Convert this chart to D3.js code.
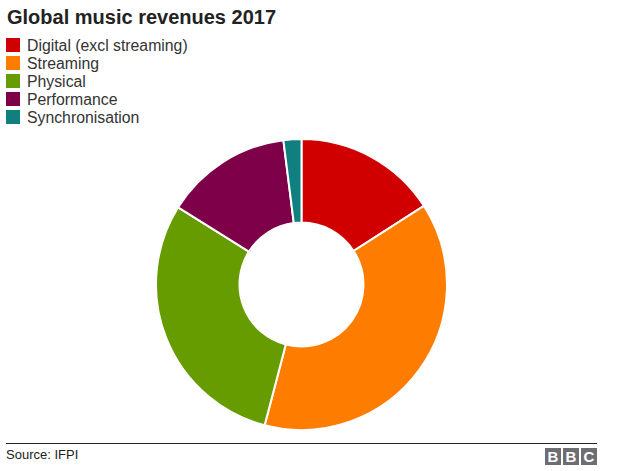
<!DOCTYPE html>
<html><head><meta charset="utf-8">
<script src="https://cdn.jsdelivr.net/npm/d3@7"></script>
<style>body{margin:0;background:#fff}svg{display:block;font-family:"Liberation Sans",Arial,Helvetica,sans-serif}</style>
</head><body>
<svg id="c" width="628" height="471"></svg>
<script>
const categories = ["Digital (excl streaming)", "Streaming", "Physical", "Performance", "Synchronisation"];
const values = [16.0, 38.4, 30.0, 14.2, 2.0];
const colors = ["#d10000", "#fe7d00", "#679c00", "#7e0049", "#0f7f80"];

const svg = d3.select("#c");
svg.append("text").attr("x", 7).attr("y", 24).attr("font-size", 20).attr("font-weight", "bold")
  .attr("fill", "#222").text("Global music revenues 2017");

const color = d3.scaleOrdinal().domain(categories).range(colors);
const lg = svg.append("g");
categories.forEach((c, i) => {
  const y = 38 + i * 18;
  lg.append("rect").attr("x", 6).attr("y", y).attr("width", 14).attr("height", 14).attr("fill", color(c));
  lg.append("text").attr("x", 27).attr("y", y + 13).attr("font-size", 15.8).attr("fill", "#333").text(c);
});

const data = categories.map((c, i) => ({cat: c, v: values[i]}));
const pie = d3.pie().value(d => d.v).sort(null);
const arc = d3.arc().innerRadius(62).outerRadius(145.5);
const g = svg.append("g").attr("transform", "translate(301.5,284.5)");
g.selectAll("path").data(pie(data)).join("path")
  .attr("d", arc).attr("fill", d => color(d.data.cat))
  .attr("stroke", "#fff").attr("stroke-width", 2);

svg.append("line").attr("x1", 6).attr("x2", 597).attr("y1", 443.5).attr("y2", 443.5)
  .attr("stroke", "#222").attr("stroke-width", 1);
svg.append("text").attr("x", 6).attr("y", 459).attr("font-size", 13).attr("fill", "#222").text("Source: IFPI");
const bbc = svg.append("g");
["B","B","C"].forEach((l, i) => {
  const x = 545 + i * 18;
  bbc.append("rect").attr("x", x).attr("y", 448).attr("width", 16).attr("height", 17).attr("fill", "#6d6e71");
  bbc.append("text").attr("x", x + 8).attr("y", 462).attr("text-anchor", "middle").attr("font-size", 15)
    .attr("font-weight", "bold").attr("fill", "#fff").text(l);
});
</script>
</body></html>
